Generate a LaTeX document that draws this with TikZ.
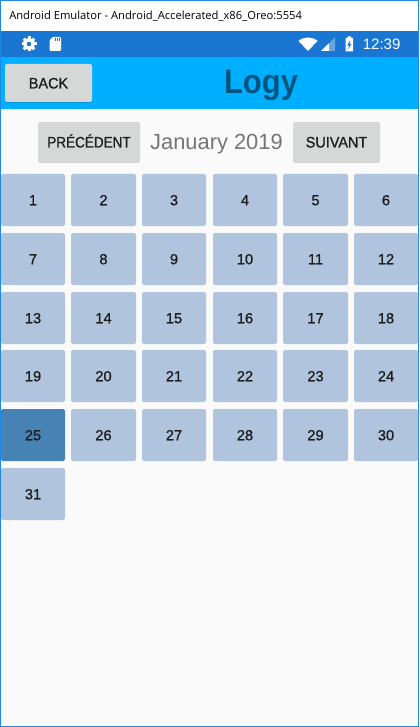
\documentclass[tikz,border=0pt]{standalone}
\usepackage{fontspec}
\setmainfont{Liberation Sans}
\newfontfamily\medfont[FakeBold=0.9]{Liberation Sans}
\newfontfamily\winfont{Open Sans}
\usetikzlibrary{shadows}
\definecolor{framec}{HTML}{1E88E5}
\definecolor{statusc}{HTML}{1976D2}
\definecolor{appc}{HTML}{00AFFF}
\definecolor{bodyc}{HTML}{FAFAFA}
\definecolor{cellc}{HTML}{B0C4DE}
\definecolor{todayc}{HTML}{4682B4}
\definecolor{btnc}{HTML}{D6D7D7}
\definecolor{titlec}{HTML}{00557F}
\definecolor{inkc}{HTML}{1E1E1E}
\definecolor{monthc}{HTML}{757575}
\tikzset{
  x=0.75pt,y=-0.75pt,
  btn/.style={fill=btnc,draw=none,rounded corners=1.5pt,inner sep=0pt,text=inkc,
    font=\medfont\fontsize{11.4}{13}\selectfont,text height=8.2pt,text depth=0pt,
    drop shadow={shadow xshift=0pt,shadow yshift=-0.6pt,fill=black,opacity=0.15}},
  cell/.style={fill=cellc,draw=none,rounded corners=1.2pt,inner sep=0pt,text=inkc,
    font=\medfont\fontsize{11}{13}\selectfont,text height=7.9pt,text depth=0pt},
  today/.style={cell,fill=todayc},
  glyph/.style={fill=white,draw=none},
}
\newcommand{\cellat}[7][cell]{% style, name, x0, y0, x1, y1, text
  \node[#1,minimum width=#5*0.75pt-#3*0.75pt,minimum height=#6*0.75pt-#4*0.75pt,anchor=center]
    (#2) at ({(#3+#5)/2},{(#4+#6)/2}) {#7};}
\begin{document}
\begin{tikzpicture}
\useasboundingbox (0,0) rectangle (419,727);
% window
\fill[framec] (0,0) rectangle (419,727);
\fill[white] (1,1) rectangle (418,31);
\fill[statusc] (1,31) rectangle (418,57);
\fill[appc] (1,57) rectangle (418,109);
\fill[bodyc] (1,109) rectangle (418,726);
\node[anchor=west,inner sep=0pt,text=black,font=\winfont\fontsize{8.4}{10}\selectfont] (wintitle) at (9,16) {Android Emulator - Android\_Accelerated\_x86\_Oreo:5554};
% status icons
\fill[glyph,even odd rule] (29,44) circle (5.8) (29,44) circle (2.4);
\foreach \a in {0,45,...,315}{\fill[glyph,rotate around={\a:(29,44)}] (27.5,36.5) rectangle (30.5,40);}
\fill[glyph,rounded corners=0.8pt] (52.5,37) -- (61,37) -- (61,51) -- (49.5,51) -- (49.5,40.5) -- cycle;
\fill[statusc] (55,38) rectangle (55.8,41) (57,38) rectangle (57.8,41) (59,38) rectangle (59.8,41);
\fill[glyph] (298.5,41) .. controls (303,36.5) and (313,36.5) .. (317.5,41) -- (308,51) -- cycle;
\fill[white,opacity=0.35] (321,51) -- (335,37.5) -- (335,51) -- cycle;
\fill[glyph] (321,51) -- (329,43.3) -- (329,51) -- cycle;
\fill[glyph] (345.5,38) rectangle (353,51.5) (347.5,36.5) rectangle (351,38);
\fill[statusc] (350.4,40) -- (347.2,45.3) -- (349,45.3) -- (348.2,49.5) -- (351.4,43.8) -- (349.6,43.8) -- cycle;
\node[anchor=west,inner sep=0pt,text=white,font=\fontsize{11.3}{13}\selectfont] (clock) at (362.5,44.5) {12:39};
% app bar
\cellat[btn]{back}{5}{64}{92}{102}{\scalebox{0.95}[1]{BACK}}
\node[inner sep=0pt,anchor=base,text=titlec,font=\bfseries\fontsize{25.5}{30}\selectfont] (logy) at (261,94) {\scalebox{0.91}[1]{Logy}};
% month navigation
\cellat[btn]{prev}{38}{122}{140}{162}{\scalebox{0.89}[1]{PRÉCÉDENT}}
\node[inner sep=0pt,anchor=base,text=monthc,font=\fontsize{16.4}{20}\selectfont] (month) at (216.5,150) {January 2019};
\cellat[btn]{next}{293}{122}{380}{162}{\scalebox{0.95}[1]{SUIVANT}}
% calendar
\cellat{d1}{1}{174}{65}{226}{1}
\cellat{d2}{71}{174}{136}{226}{2}
\cellat{d3}{142}{174}{206}{226}{3}
\cellat{d4}{213}{174}{277}{226}{4}
\cellat{d5}{283}{174}{348}{226}{5}
\cellat{d6}{354}{174}{418}{226}{6}
\cellat{d7}{1}{233}{65}{285}{7}
\cellat{d8}{71}{233}{136}{285}{8}
\cellat{d9}{142}{233}{206}{285}{9}
\cellat{d10}{213}{233}{277}{285}{10}
\cellat{d11}{283}{233}{348}{285}{11}
\cellat{d12}{354}{233}{418}{285}{12}
\cellat{d13}{1}{292}{65}{344}{13}
\cellat{d14}{71}{292}{136}{344}{14}
\cellat{d15}{142}{292}{206}{344}{15}
\cellat{d16}{213}{292}{277}{344}{16}
\cellat{d17}{283}{292}{348}{344}{17}
\cellat{d18}{354}{292}{418}{344}{18}
\cellat{d19}{1}{350}{65}{402}{19}
\cellat{d20}{71}{350}{136}{402}{20}
\cellat{d21}{142}{350}{206}{402}{21}
\cellat{d22}{213}{350}{277}{402}{22}
\cellat{d23}{283}{350}{348}{402}{23}
\cellat{d24}{354}{350}{418}{402}{24}
\cellat[today]{d25}{1}{409}{65}{461}{25}
\cellat{d26}{71}{409}{136}{461}{26}
\cellat{d27}{142}{409}{206}{461}{27}
\cellat{d28}{213}{409}{277}{461}{28}
\cellat{d29}{283}{409}{348}{461}{29}
\cellat{d30}{354}{409}{418}{461}{30}
\cellat{d31}{1}{468}{65}{520}{31}
\end{tikzpicture}
\end{document}
